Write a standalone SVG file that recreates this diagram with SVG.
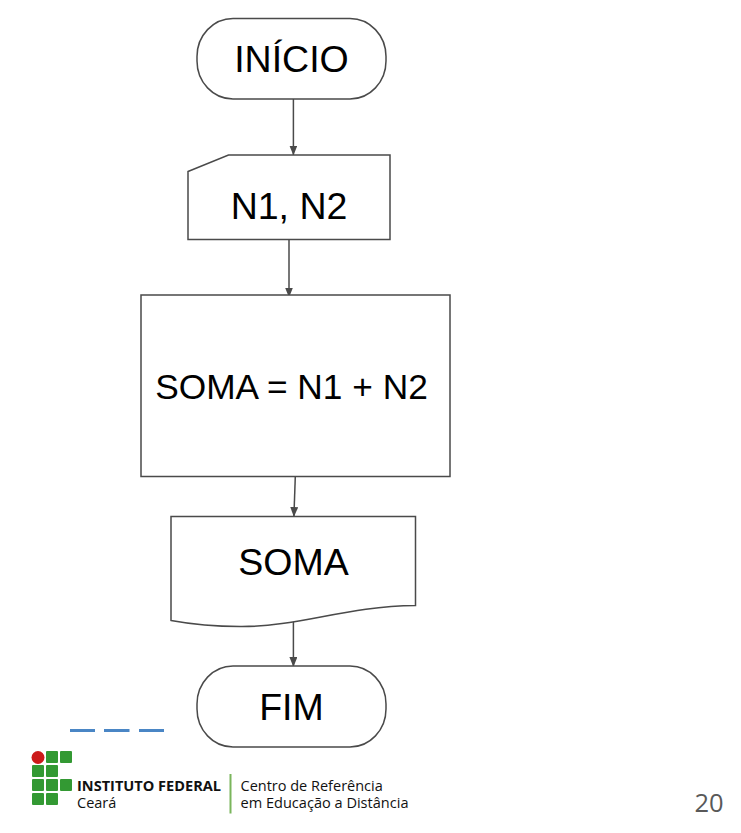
<svg xmlns="http://www.w3.org/2000/svg" width="741" height="833" viewBox="0 0 741 833">
<style>
.s{fill:#fff;stroke:#4a4a4a;stroke-width:1.5}
.t{font-family:"Liberation Sans",Arial,sans-serif;font-size:37.500px;fill:#000;text-anchor:middle}
.c{fill:none;stroke:#4a4a4a;stroke-width:1.500}
.g{fill:#339933}
.o{font-family:"Open Sans",sans-serif;font-size:14.500px;fill:#111}
</style>
<defs><marker id="a" markerUnits="userSpaceOnUse" markerWidth="11" markerHeight="9" refX="9.500" refY="4" orient="auto"><path d="M0 0L10 4L0 8Z" fill="#4a4a4a"/></marker></defs>
<rect width="741" height="833" fill="#fff"/>
<g id="connectors">
<path class="c" d="M293.400 99V155" marker-end="url(#a)"/>
<path class="c" d="M289 239.500V297" marker-end="url(#a)"/>
<path class="c" d="M295.300 476.500L293.900 516.500" marker-end="url(#a)"/>
<path class="c" d="M293.400 621V666.500" marker-end="url(#a)"/>
</g>
<g id="inicio"><rect class="s" x="197" y="18.500" width="189" height="80.500" rx="36" ry="38"/><text class="t" x="291.500" y="72">INÍCIO</text></g>
<g id="entrada"><path class="s" d="M188 171.500L228.500 155H390V239.500H188Z"/><text class="t" x="289" y="219">N1, N2</text></g>
<g id="processo"><rect class="s" x="141" y="295" width="309" height="181.500"/><text class="t" x="291.500" y="399" style="font-size:35.300px">SOMA = N1 + N2</text></g>
<g id="saida"><path class="s" d="M171 516.500H415.500V605.500C345 606 300 627 240 626.500C212 626.500 190 624 171 620.500Z"/><text class="t" x="293.500" y="575">SOMA</text></g>
<g id="fim"><rect class="s" x="197" y="666" width="189" height="81" rx="36" ry="38"/><text class="t" x="291.500" y="720">FIM</text></g>
<g id="decor"><path d="M70 730.500H95M104 730.500H129.500M139 730.500H164" fill="none" stroke="#4a86c5" stroke-width="3"/></g>
<g id="logo">
<circle cx="38" cy="757.500" r="6.500" fill="#cc1a1a"/>
<rect class="g" x="46" y="751" width="12" height="12" rx="1"/><rect class="g" x="60" y="751" width="12" height="12" rx="1"/>
<rect class="g" x="32" y="765" width="12" height="12" rx="1"/><rect class="g" x="46" y="765" width="12" height="12" rx="1"/>
<rect class="g" x="32" y="779" width="12" height="12" rx="1"/><rect class="g" x="46" y="779" width="12" height="12" rx="1"/><rect class="g" x="60" y="779" width="12" height="12" rx="1"/>
<rect class="g" x="32" y="793" width="12" height="12" rx="1"/><rect class="g" x="46" y="793" width="12" height="12" rx="1"/>
<text class="o" x="77" y="791" font-weight="700" textLength="144" lengthAdjust="spacingAndGlyphs">INSTITUTO FEDERAL</text>
<text class="o" x="77" y="808">Ceará</text>
<rect x="229.500" y="774" width="2" height="39.500" fill="#7ab55c"/>
<text class="o" x="240.500" y="791">Centro de Referência</text>
<text class="o" x="240.500" y="808" textLength="168" lengthAdjust="spacingAndGlyphs">em Educação a Distância</text>
</g>
<text x="709" y="812" font-family="'Open Sans',sans-serif" font-size="25.500" fill="#595959" text-anchor="middle">20</text>
</svg>
